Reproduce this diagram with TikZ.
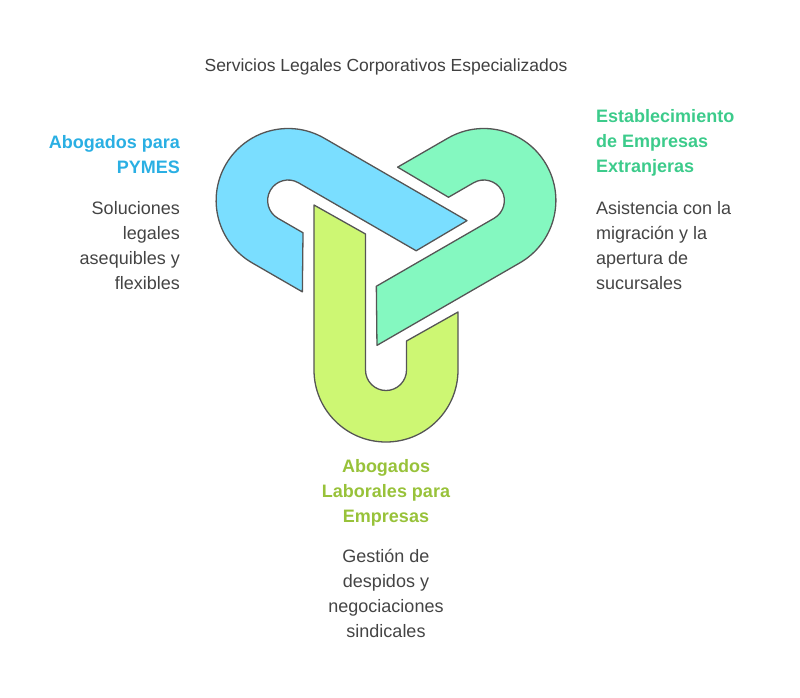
\documentclass[tikz,border=0pt]{standalone}
\usepackage{fontspec}
\setmainfont{Liberation Sans}
\definecolor{cblue}{HTML}{7ADEFF}
\definecolor{cteal}{HTML}{84F8C0}
\definecolor{cgreen}{HTML}{CDF773}
\definecolor{hblue}{HTML}{2AAFE3}
\definecolor{hteal}{HTML}{3CCB8B}
\definecolor{hgreen}{HTML}{98C23A}
\definecolor{txt}{HTML}{444444}
\definecolor{edge}{HTML}{555555}
\tikzset{
  band/.style={draw=edge,line width=1.3pt,line join=round},
  body/.style={inner sep=0pt,text=txt,font=\fontsize{18}{25}\selectfont},
  head/.style={inner sep=0pt,font=\bfseries\fontsize{18}{25}\selectfont},
}
\newcommand{\ushape}{(-72,52) -- (-72,-113) arc[start angle=180,end angle=360,radius=72]
  -- (72,-55) -- (20.5,-84) -- (20.5,-113) arc[start angle=0,end angle=-180,radius=20.5] -- (-20.5,23) -- cycle}
\begin{document}
\begin{tikzpicture}[x=1pt,y=1pt]
\useasboundingbox (0,0) rectangle (800,-697);
\begin{scope}[shift={(386,-257)}]
  \begin{scope}[rotate=240]\path[band,fill=cblue] \ushape;\end{scope}
  \begin{scope}[rotate=120]\path[band,fill=cteal] \ushape;\end{scope}
  \path[band,fill=cgreen] \ushape;
\end{scope}
\node[body,anchor=base,font=\fontsize{17.5}{25}\selectfont,text=black!75] (title) at (386,-71) {Servicios Legales Corporativos Especializados};
\node[head,text=hblue,align=right,anchor=north east] (h1) at (180,-135) {Abogados para\\PYMES};
\node[body,align=right,anchor=north east] (b1) at (180,-201) {Soluciones\\legales\\asequibles y\\flexibles};
\node[head,text=hteal,align=left,anchor=north west] (h2) at (596,-109) {Establecimiento\\de Empresas\\Extranjeras};
\node[body,align=left,anchor=north west] (b2) at (596,-201) {Asistencia con la\\migración y la\\apertura de\\sucursales};
\node[head,text=hgreen,align=center,anchor=north] (h3) at (386,-459) {Abogados\\Laborales para\\Empresas};
\node[body,align=center,anchor=north] (b3) at (386,-549) {Gestión de\\despidos y\\negociaciones\\sindicales};
\end{tikzpicture}
\end{document}
